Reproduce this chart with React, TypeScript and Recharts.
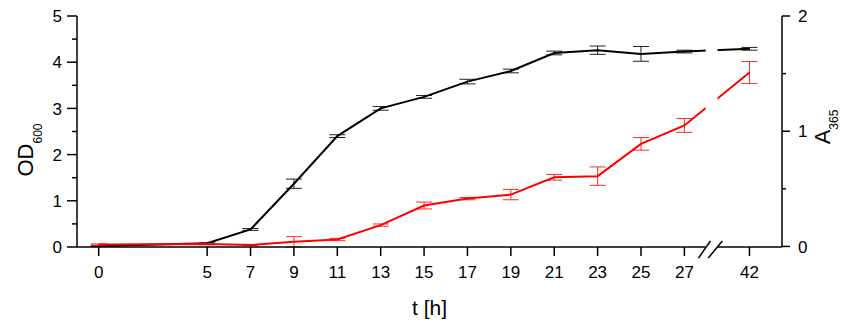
import {
  ComposedChart,
  Line,
  XAxis,
  YAxis,
  ErrorBar,
  ReferenceArea,
  ReferenceLine,
} from "recharts";

const hours = [0, 5, 7, 9, 11, 13, 15, 17, 19, 21, 23, 25, 27, 42];
const od600 = [0.02, 0.08, 0.38, 1.37, 2.4, 3.0, 3.25, 3.58, 3.81, 4.2, 4.26, 4.18, 4.23, 4.29];
const od600Err = [0.01, 0.01, 0.02, 0.1, 0.03, 0.04, 0.03, 0.05, 0.04, 0.04, 0.09, 0.16, 0.03, 0.03];
const a365 = [0.017, 0.02, 0.012, 0.04, 0.06, 0.185, 0.355, 0.415, 0.45, 0.6, 0.61, 0.89, 1.05, 1.51];
const a365Err = [0.005, 0.005, 0.005, 0.045, 0.01, 0.01, 0.03, 0.01, 0.045, 0.025, 0.08, 0.055, 0.06, 0.095];
const odTicks = [0, 0.5, 1, 1.5, 2, 2.5, 3, 3.5, 4, 4.5, 5];
const aTicks = [0, 0.5, 1, 1.5, 2];

// broken time axis: hours 28.5..40.5 are cut out
const BREAK_START = 28.5;
const BREAK_SKIP = 12;
const axisPos = (t: number) => (t > BREAK_START ? t - BREAK_SKIP : t);
const BREAK_AT = 28.25;

const xTicks = hours.map(axisPos);
const data = hours.map((t, i) => ({
  pos: axisPos(t),
  od: od600[i],
  odErr: od600Err[i],
  a: a365[i],
  aErr: a365Err[i],
}));

const FONT = "'Liberation Sans', Arial, sans-serif";

function LeftTick(props: any) {
  const { x, y, payload } = props;
  const major = Number.isInteger(payload.value);
  const axisX = x + 15;
  return (
    <g>
      <line x1={axisX - (major ? 10 : 5)} x2={axisX} y1={y} y2={y} stroke="#000" strokeWidth={1.5} />
      {major && (
        <text x={x} y={y} dy="0.36em" textAnchor="end" fontSize={17} fontFamily={FONT} fill="#000">
          {payload.value}
        </text>
      )}
    </g>
  );
}

function RightTick(props: any) {
  const { x, y, payload } = props;
  const major = Number.isInteger(payload.value);
  const axisX = x - 16;
  return (
    <g>
      <line x1={axisX} x2={axisX + (major ? 8 : 4)} y1={y} y2={y} stroke="#000" strokeWidth={1.5} />
      {major && (
        <text x={x} y={y} dy="0.36em" textAnchor="start" fontSize={17} fontFamily={FONT} fill="#000">
          {payload.value}
        </text>
      )}
    </g>
  );
}

export default function App() {
  return (
    <div style={{ position: "absolute", left: 0, top: 0 }}>
      <ComposedChart
        width={843}
        height={324}
        data={data}
        margin={{ top: 16, right: 0, left: 0, bottom: 0 }}
      >
        <XAxis
          dataKey="pos"
          type="number"
          domain={[-1, 31.5]}
          ticks={xTicks}
          allowDataOverflow
          tickFormatter={(v: number) => String(hours[xTicks.indexOf(v)])}
          height={77}
          tickSize={9}
          tickMargin={10}
          axisLine={{ stroke: "#000", strokeWidth: 1.5 }}
          tickLine={{ stroke: "#000", strokeWidth: 1.5 }}
          tick={{ fill: "#000", fontSize: 17, fontFamily: FONT }}
          label={{
            content: (p: any) => (
              <text
                x={p.viewBox.x + p.viewBox.width / 2}
                y={p.viewBox.y + 68}
                textAnchor="middle"
                fontSize={21}
                fontFamily={FONT}
                fill="#000"
              >
                t [h]
              </text>
            ),
          }}
        />
        <YAxis
          yAxisId="left"
          domain={[0, 5]}
          ticks={odTicks}
          width={77}
          tickSize={10}
          tickMargin={5}
          tickLine={false}
          axisLine={{ stroke: "#000", strokeWidth: 1.5 }}
          tick={<LeftTick />}
          label={{
            content: () => (
              <text
                x={33}
                y={150}
                transform="rotate(-90, 33, 150)"
                textAnchor="middle"
                fontSize={22}
                fontFamily={FONT}
                fill="#000"
              >
                OD<tspan dy={9} fontSize={12}>600</tspan>
              </text>
            ),
          }}
        />
        <YAxis
          yAxisId="right"
          orientation="right"
          domain={[0, 2]}
          ticks={aTicks}
          width={61}
          tickSize={8}
          tickMargin={8}
          tickLine={false}
          axisLine={{ stroke: "#000", strokeWidth: 1.5 }}
          tick={<RightTick />}
          label={{
            content: () => (
              <text
                x={830}
                y={127}
                transform="rotate(-90, 830, 127)"
                textAnchor="middle"
                fontSize={22}
                fontFamily={FONT}
                fill="#000"
              >
                A<tspan dy={8} fontSize={12}>365</tspan>
              </text>
            ),
          }}
        />
        <Line
          yAxisId="left"
          dataKey="od"
          type="linear"
          stroke="#000"
          strokeWidth={2}
          dot={false}
          isAnimationActive={false}
        >
          <ErrorBar dataKey="odErr" width={8} stroke="#222" strokeWidth={1} direction="y" />
        </Line>
        <Line
          yAxisId="right"
          dataKey="a"
          type="linear"
          stroke="#ff0000"
          strokeWidth={2}
          dot={false}
          isAnimationActive={false}
        >
          <ErrorBar dataKey="aErr" width={8} stroke="#ff2a2a" strokeWidth={1} direction="y" />
        </Line>
        <ReferenceArea
          yAxisId="left"
          x1={BREAK_AT - 0.27}
          x2={BREAK_AT + 0.28}
          y1={-0.04}
          y2={5}
          fill="#fff"
          fillOpacity={1}
          stroke="none"
          ifOverflow="visible"
          zIndex={650}
        />
        <ReferenceLine
          yAxisId="left"
          segment={[
            { x: BREAK_AT - 0.6, y: -0.24 },
            { x: BREAK_AT - 0.05, y: 0.13 },
          ]}
          stroke="#000"
          strokeWidth={1.5}
          ifOverflow="visible"
          zIndex={700}
        />
        <ReferenceLine
          yAxisId="left"
          segment={[
            { x: BREAK_AT - 0.15, y: -0.24 },
            { x: BREAK_AT + 0.5, y: 0.13 },
          ]}
          stroke="#000"
          strokeWidth={1.5}
          ifOverflow="visible"
          zIndex={700}
        />
      </ComposedChart>
    </div>
  );
}
